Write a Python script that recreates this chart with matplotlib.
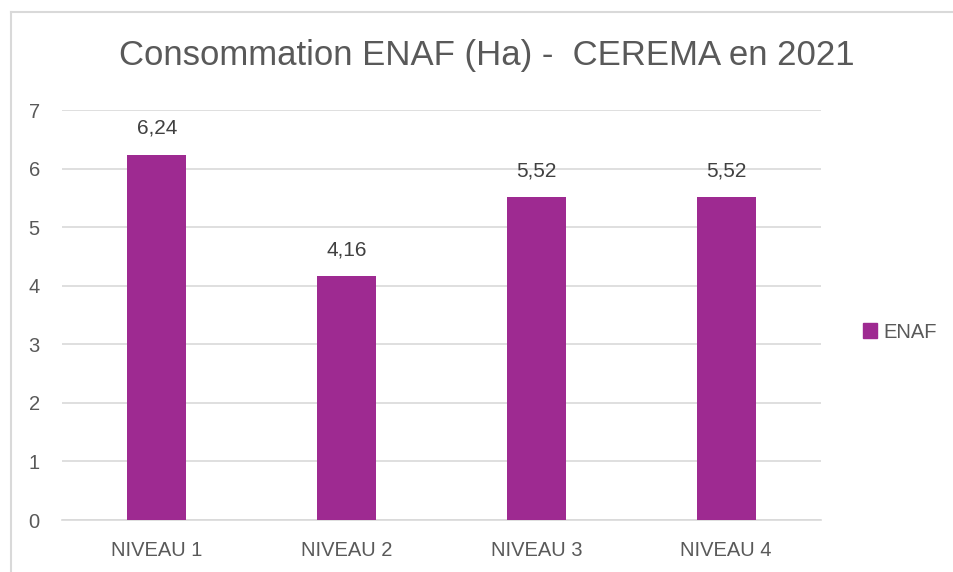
import matplotlib
matplotlib.use("Agg")
import matplotlib.pyplot as plt
from matplotlib.lines import Line2D
from matplotlib.patches import Patch

categories = ["NIVEAU 1", "NIVEAU 2", "NIVEAU 3", "NIVEAU 4"]
values = [6.24, 4.16, 5.52, 5.52]
value_labels = ["6,24", "4,16", "5,52", "5,52"]
series_name = "ENAF"
yticks = [0, 1, 2, 3, 4, 5, 6, 7]

plt.rcParams['font.family'] = ['Liberation Sans', 'DejaVu Sans']
text_color = "#595959"
label_color = "#404040"
bar_color = "#9E2A91"

fig = plt.figure(figsize=(9.54, 5.72), dpi=100)
W, H = 954, 572
ax = fig.add_axes([62 / W, 1 - 520 / H, (821 - 62) / W, (520 - 110) / H])

x = list(range(len(categories)))
bars = ax.bar(x, values, width=0.31, color=bar_color, zorder=3)
ax.set_xlim(-0.5, len(categories) - 0.5)
ax.set_ylim(0, 7)
ax.set_yticks(yticks)
ax.set_yticklabels([str(t) for t in yticks])
ax.set_xticks(x)
ax.set_xticklabels(categories)
ax.yaxis.grid(True, color="#D9D9D9", linewidth=1.2, zorder=0)
ax.set_axisbelow(True)
for s in ["top", "right", "left"]:
    ax.spines[s].set_visible(False)
ax.spines["bottom"].set_color("#D9D9D9")
ax.spines["bottom"].set_linewidth(1.2)
ax.tick_params(axis="both", length=0, labelsize=14.5, colors=text_color)
ax.tick_params(axis="y", pad=16)
ax.tick_params(axis="x", pad=15)

for b, lab in zip(bars, value_labels):
    ax.annotate(lab, (b.get_x() + b.get_width() / 2, b.get_height()),
                xytext=(0, 12), textcoords="offset points",
                ha="center", va="bottom", fontsize=15, color=label_color)

fig.text(487 / W, 1 - 55 / H, "Consommation ENAF (Ha) -  CEREMA en 2021",
         ha="center", va="center", fontsize=25, color=text_color)

leg = fig.legend(handles=[Patch(color=bar_color, label=series_name)],
                 loc="center left", bbox_to_anchor=(845 / W, 1 - 332 / H),
                 frameon=False, fontsize=14.5, handlelength=0.7, handleheight=0.7,
                 handletextpad=0.3)
for t in leg.get_texts():
    t.set_color(text_color)

fig.add_artist(Line2D([11 / W, 1], [1 - 12 / H, 1 - 12 / H], transform=fig.transFigure,
                      color="#D9D9D9", linewidth=1.5))
fig.add_artist(Line2D([11 / W, 11 / W], [0, 1 - 12 / H], transform=fig.transFigure,
                      color="#D9D9D9", linewidth=1.5))

fig.savefig("out.png", dpi=100)
